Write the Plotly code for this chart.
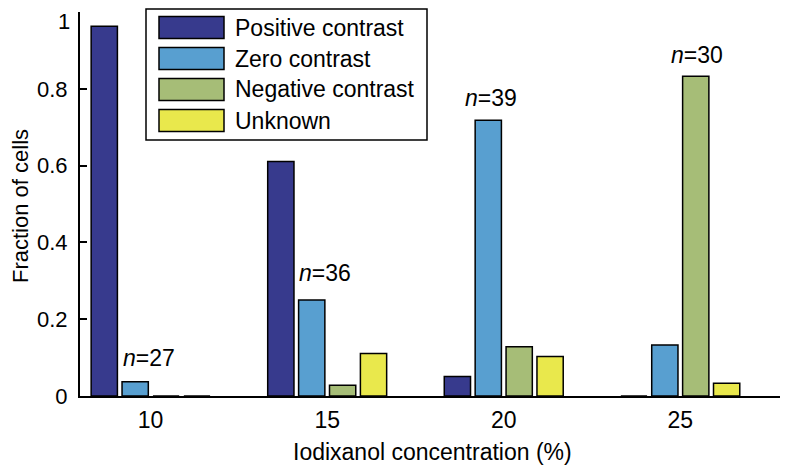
import plotly.graph_objects as go

# data
conc = [10, 15, 20, 25]
positive = [0.963, 0.611, 0.051, 0.0]
zero = [0.037, 0.250, 0.718, 0.133]
negative = [0.0, 0.028, 0.128, 0.833]
unknown = [0.0, 0.111, 0.103, 0.033]
n_cells = [27, 36, 39, 30]

names = ["Positive contrast", "Zero contrast", "Negative contrast", "Unknown"]
colors = ["#373a8d", "#589fd0", "#a6bd77", "#e9e84c"]
series = [positive, zero, negative, unknown]
yticks = [0, 0.2, 0.4, 0.6, 0.8, 1]

# where the n= labels sit (data coords)
n_x = [9.94, 14.93, 19.63, 25.47]
n_y = [0.10, 0.32, 0.777, 0.889]

# the page body has an 8px margin, so the figure is 8px smaller
OFF = 8
W, H = 788 - OFF, 467 - OFF
ml, mr, mt, mb = 80 - OFF, 0, 12 - OFF, 71
FONT = "Liberation Sans, Arial, Helvetica, sans-serif"

# screen pixel -> paper coords
def px_x(p):
    return (p - OFF - ml) / (W - ml - mr)

def px_y(p):
    return (H - mb - (p - OFF)) / (H - mt - mb)

fig = go.Figure()
for name, col, vals in zip(names, colors, series):
    fig.add_trace(go.Bar(x=conc, y=vals, name=name, marker_color=col,
                         marker_line=dict(color="black", width=1.5),
                         showlegend=False))

for x, y, n in zip(n_x, n_y, n_cells):
    fig.add_annotation(x=x, y=y, text="<i>n</i>=%d" % n, showarrow=False,
                       font=dict(size=23, color="black", family=FONT))

# legend drawn by hand so the swatches match the original size
fig.add_shape(type="rect", xref="paper", yref="paper",
              x0=px_x(146), x1=px_x(427), y0=px_y(140), y1=px_y(9),
              line=dict(color="black", width=1.5), fillcolor="white", layer="above")
rows = [27.5, 58.5, 89.5, 120.5]
for r, name, col in zip(rows, names, colors):
    fig.add_shape(type="rect", xref="paper", yref="paper",
                  x0=px_x(159), x1=px_x(224), y0=px_y(r + 11), y1=px_y(r - 11),
                  line=dict(color="black", width=1.5), fillcolor=col, layer="above")
    fig.add_annotation(xref="paper", yref="paper", x=px_x(233), y=px_y(r),
                       xanchor="left", yanchor="middle", text=name, showarrow=False,
                       font=dict(size=23, color="black", family=FONT))

# axis titles
fig.add_annotation(xref="paper", yref="paper", x=px_x(432), y=px_y(452),
                   xanchor="center", yanchor="middle", showarrow=False,
                   text="Iodixanol concentration (%)",
                   font=dict(size=23, color="black", family=FONT))
fig.add_annotation(xref="paper", yref="paper", x=px_x(21), y=px_y(206),
                   xanchor="center", yanchor="middle", showarrow=False,
                   text="Fraction of cells", textangle=-90,
                   font=dict(size=22, color="black", family=FONT))

# top tick label sits at the very edge of the page; keep it inside
fig.add_annotation(xref="paper", yref="paper", x=px_x(71), y=px_y(OFF),
                   xanchor="right", yanchor="top", showarrow=False, text="1",
                   borderpad=0, font=dict(size=22, color="black", family=FONT))

fig.update_layout(
    width=W, height=H,
    margin=dict(l=ml, r=mr, t=mt, b=mb),
    barmode="group", bargap=0.30, bargroupgap=0.15,
    plot_bgcolor="white", paper_bgcolor="white",
    font=dict(family=FONT, size=20, color="black"),
)
fig.update_xaxes(range=[8, 28.05], tickvals=conc, ticks="", showline=True,
                 linecolor="black", linewidth=2, showgrid=False, zeroline=False,
                 automargin=False, ticklabelstandoff=2, ticklabeloverflow="allow",
                 tickfont=dict(size=23))
fig.update_yaxes(range=[0, 1], tickvals=yticks,
                 ticktext=["0", "0.2", "0.4", "0.6", "0.8", ""],
                 ticks="inside", ticklen=7, tickcolor="black", tickwidth=1.5,
                 showline=True, linecolor="black", linewidth=2, showgrid=False,
                 zeroline=False, automargin=False, ticklabelstandoff=6,
                 ticklabeloverflow="allow", tickfont=dict(size=22))

fig.write_html("out.html")
